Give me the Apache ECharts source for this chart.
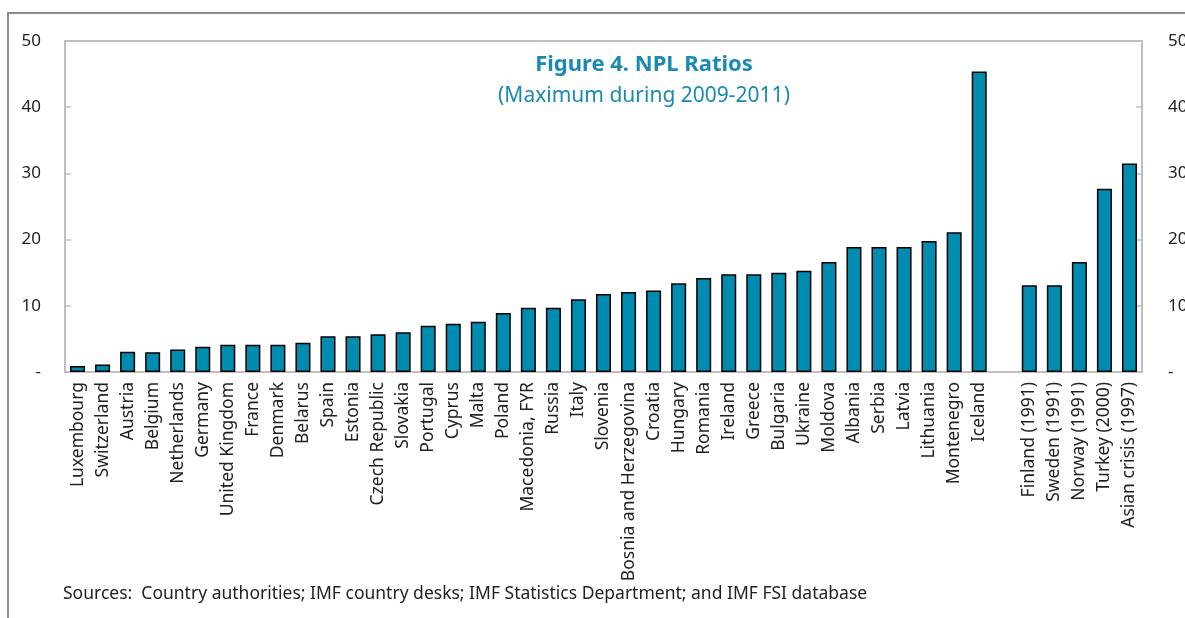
<!DOCTYPE html>
<html>
<head>
<meta charset="utf-8">
<script src="https://cdn.jsdelivr.net/npm/echarts@6/dist/echarts.min.js"></script>
<style>
  html, body { margin: 0; padding: 0; background: #fff; }
  #npl-chart { width: 1185px; height: 618px; }
</style>
</head>
<body>
<div id="npl-chart"></div>
<script>
// countries, then one empty slot, then the historical crises
const countries = [
  'Luxembourg', 'Switzerland', 'Austria', 'Belgium', 'Netherlands', 'Germany',
  'United Kingdom', 'France', 'Denmark', 'Belarus', 'Spain', 'Estonia',
  'Czech Republic', 'Slovakia', 'Portugal', 'Cyprus', 'Malta', 'Poland',
  'Macedonia, FYR', 'Russia', 'Italy', 'Slovenia', 'Bosnia and Herzegovina',
  'Croatia', 'Hungary', 'Romania', 'Ireland', 'Greece', 'Bulgaria', 'Ukraine',
  'Moldova', 'Albania', 'Serbia', 'Latvia', 'Lithuania', 'Montenegro', 'Iceland'
];
const countryValues = [
  0.9, 1.15, 3.05, 3.0, 3.4, 3.8,
  4.1, 4.1, 4.1, 4.4, 5.4, 5.4,
  5.7, 6.0, 7.0, 7.3, 7.6, 8.9,
  9.7, 9.7, 11.0, 11.8, 12.1,
  12.3, 13.4, 14.2, 14.75, 14.75, 15.0, 15.3,
  16.6, 18.9, 18.9, 18.9, 19.8, 21.1, 45.4
];
const crises = ['Finland (1991)', 'Sweden (1991)', 'Norway (1991)', 'Turkey (2000)', 'Asian crisis (1997)'];
const crisisValues = [13.1, 13.1, 16.6, 27.7, 31.5];
const yTicks = ['-', '10', '20', '30', '40', '50'];

const categories = [...countries, '', ...crises];
const values = [...countryValues, null, ...crisisValues];

const chart = echarts.init(document.getElementById('npl-chart'));

const yAxisBase = {
  type: 'value',
  min: 0,
  max: 50,
  interval: 10,
  splitLine: {show: false},
  axisLine: {show: true, lineStyle: {color: '#bfbfbf', width: 2}},
  axisTick: {show: true, inside: true, length: 6, lineStyle: {color: '#bfbfbf', width: 1.5}},
  axisLabel: {
    color: '#222',
    fontSize: 17,
    fontFamily: 'Noto Sans',
    formatter: v => yTicks[v / 10]
  }
};

chart.setOption({
  animation: false,
  grid: {
    left: 65, right: 43, top: 41, bottom: 246,
    show: true, borderColor: '#bfbfbf', borderWidth: 2,
    containLabel: false,
    outerBoundsMode: 'none'
  },
  title: {
    text: 'Figure 4. NPL Ratios',
    subtext: '(Maximum during 2009-2011)',
    left: 639,
    top: 49,
    textAlign: 'center',
    itemGap: 10,
    textStyle: {color: '#1a8ab4', fontSize: 22, fontWeight: 'bold', fontFamily: 'Noto Sans'},
    subtextStyle: {color: '#1a8ab4', fontSize: 21, fontFamily: 'Noto Sans'}
  },
  xAxis: {
    type: 'category',
    data: categories,
    boundaryGap: true,
    axisLine: {lineStyle: {color: '#bfbfbf', width: 2}},
    axisTick: {show: false},
    axisLabel: {
      interval: 0,
      rotate: 90,
      margin: 10,
      color: '#222',
      fontSize: 17.5,
      fontFamily: 'Noto Sans'
    }
  },
  yAxis: [
    {...yAxisBase, position: 'left', axisLabel: {...yAxisBase.axisLabel, margin: 24}},
    {...yAxisBase, position: 'right', axisLabel: {...yAxisBase.axisLabel, margin: 26}}
  ],
  series: [{
    type: 'bar',
    data: values,
    barCategoryGap: '40%',
    itemStyle: {color: '#008bb0', borderColor: '#000', borderWidth: 1.5}
  }],
  graphic: [
    {
      type: 'rect',
      shape: {x: 8, y: 13, width: 1300, height: 800},
      style: {fill: 'none', stroke: '#8c8c8c', lineWidth: 2},
      silent: true
    },
    {
      type: 'text',
      left: 63,
      top: 585,
      style: {
        text: 'Sources:  Country authorities; IMF country desks; IMF Statistics Department; and IMF FSI database',
        fill: '#222',
        font: '17.5px "Noto Sans"'
      }
    }
  ]
});
</script>
</body>
</html>
